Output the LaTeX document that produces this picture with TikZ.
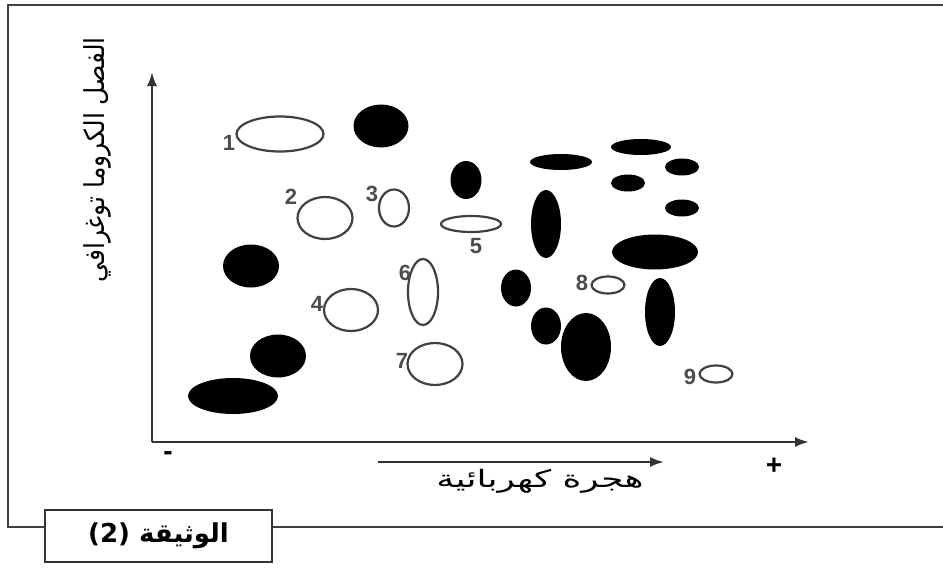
\documentclass[tikz,border=0pt]{standalone}
\usepackage{fontspec}
\setmainfont{Liberation Sans}
\newfontfamily\arabicfont[Script=Arabic]{DejaVu Sans}
\TeXXeTstate=1
\usetikzlibrary{arrows.meta,shapes.geometric}
\tikzset{
  wspot/.style={ellipse, draw=black!75, line width=2.2pt, fill=white, inner sep=0pt},
  bspot/.style={ellipse, fill=black, inner sep=0pt},
  num/.style={font=\fontsize{22}{22}\selectfont\bfseries, text=black!70, inner sep=0pt},
  axis/.style={line width=2.2pt, draw=black!80, -{Latex[length=14pt,width=10pt]}},
  frameline/.style={line width=2.4pt, draw=black!75},
}
\begin{document}
\begin{tikzpicture}[x=1pt,y=-1pt]
\useasboundingbox (0,0) rectangle (943,570);
% frame
\coordinate (ftl) at (8,5);
\coordinate (ftr) at (943,5);
\coordinate (fbl) at (8,527);
\coordinate (fbr) at (943,527);
\node[draw=black!80, line width=2.4pt, minimum width=227pt, minimum height=52pt, inner sep=0pt] (doc) at (158.5,536)
  {\arabicfont\bfseries\fontsize{26}{26}\selectfont\beginR الوثيقة \beginL\textbf{(2)}\endL\endR};
\draw[frameline] (doc.west |- fbl) -- (fbl) -- (ftl) -- (ftr);
\draw[frameline] (doc.east |- fbr) -- (fbr);
% axes
\coordinate (o) at (152,442);
\coordinate (ytip) at (152,72);
\coordinate (xtip) at (809,442);
\draw[axis] (o) -- (ytip);
\draw[axis] (o) -- (xtip);
\coordinate (ma) at (378,462);
\coordinate (mb) at (664,462);
\draw[axis, line width=2pt] (ma) -- (mb);
\node[font=\fontsize{28}{28}\selectfont\bfseries] (minus) at (168,456) {-};
\node[font=\fontsize{28}{28}\selectfont\bfseries] (plus) at (774,466) {+};
\node[font=\arabicfont\fontsize{24}{24}\selectfont, xscale=1.5, transform shape] (xlab) at (540,481) {\beginR هجرة كهربائية\endR};
\node[font=\arabicfont\fontsize{25}{25}\selectfont, rotate=90, yscale=1.1, transform shape] (ylab) at (97,160) {\beginR الفصل الكروما توغرافي\endR};
% white spots
\node[wspot, minimum width=87pt, minimum height=35pt] (s1) at (280,134) {};
\node[wspot, minimum width=55pt, minimum height=42pt] (s2) at (325,218) {};
\node[wspot, minimum width=30pt, minimum height=37pt] (s3) at (394,208) {};
\node[wspot, minimum width=60pt, minimum height=16pt] (s5) at (471,224) {};
\node[wspot, minimum width=54pt, minimum height=42pt] (s4) at (351,310) {};
\node[wspot, minimum width=30pt, minimum height=66pt] (s6) at (423,292) {};
\node[wspot, minimum width=55pt, minimum height=42pt] (s7) at (435,364) {};
\node[wspot, minimum width=33pt, minimum height=17pt] (s8) at (608,285) {};
\node[wspot, minimum width=33pt, minimum height=17pt] (s9) at (716,374) {};
% numbers
\node[num] (n1) at (229,143) {1};
\node[num] (n2) at (291,197) {2};
\node[num] (n3) at (372,194) {3};
\node[num] (n4) at (317,304) {4};
\node[num] (n5) at (476,246) {5};
\node[num] (n6) at (405,273) {6};
\node[num] (n7) at (402,361) {7};
\node[num] (n8) at (582,283) {8};
\node[num] (n9) at (690,377) {9};
% black spots
\node[bspot, minimum width=55pt, minimum height=43pt] (bA) at (381,126) {};
\node[bspot, minimum width=56pt, minimum height=43pt] (bB) at (251,266) {};
\node[bspot, minimum width=56pt, minimum height=43pt] (bC) at (278,356) {};
\node[bspot, minimum width=90pt, minimum height=36pt] (bD) at (233,396) {};
\node[bspot, minimum width=31pt, minimum height=38pt] (bE) at (466,180) {};
\node[bspot, minimum width=62pt, minimum height=16pt] (bF) at (561,162) {};
\node[bspot, minimum width=30pt, minimum height=68pt] (bG) at (546,224) {};
\node[bspot, minimum width=60pt, minimum height=16pt] (bH) at (641,147) {};
\node[bspot, minimum width=34pt, minimum height=17pt] (bI) at (682,167) {};
\node[bspot, minimum width=34pt, minimum height=17pt] (bJ) at (628,183) {};
\node[bspot, minimum width=34pt, minimum height=17pt] (bK) at (682,208) {};
\node[bspot, minimum width=86pt, minimum height=35pt] (bL) at (655,252) {};
\node[bspot, minimum width=30pt, minimum height=37pt] (bM) at (516,288) {};
\node[bspot, minimum width=30pt, minimum height=37pt] (bN) at (546,326) {};
\node[bspot, minimum width=50pt, minimum height=68pt] (bO) at (586,347) {};
\node[bspot, minimum width=30pt, minimum height=68pt] (bP) at (660,312) {};
\end{tikzpicture}
\end{document}
